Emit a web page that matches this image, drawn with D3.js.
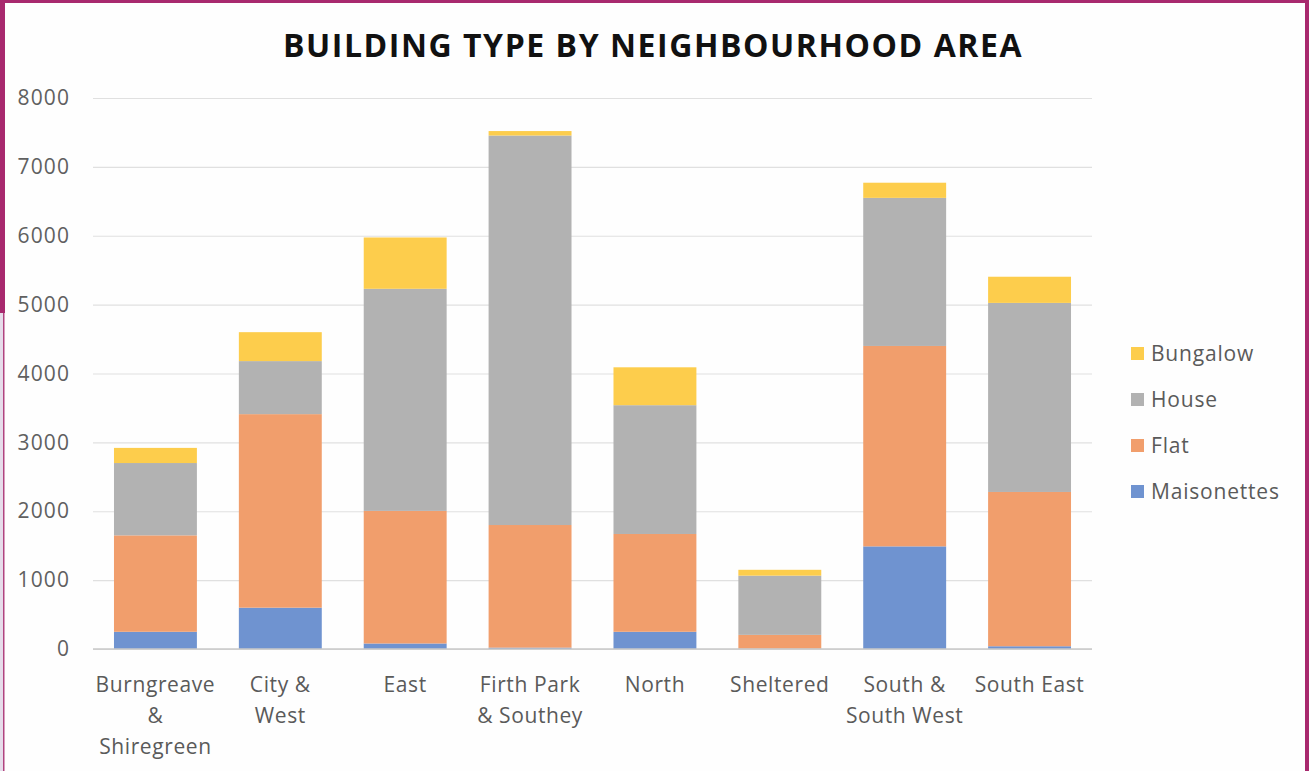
<!DOCTYPE html>
<html>
<head>
<meta charset="utf-8">
<script src="https://cdn.jsdelivr.net/npm/d3@7"></script>
<style>
  body { margin: 0; background: #fff; }
  svg { display: block; }
</style>
</head>
<body>
<svg id="chart" width="1309" height="771"></svg>
<script>
// data
const areas = [
  ["Burngreave", "&", "Shiregreen"],
  ["City &", "West"],
  ["East"],
  ["Firth Park", "& Southey"],
  ["North"],
  ["Sheltered"],
  ["South &", "South West"],
  ["South East"]
]
const maisonettes = [250, 600, 80, 20, 250, 5, 1490, 40]
const flat = [1400, 2810, 1925, 1780, 1420, 200, 2910, 2240]
const house = [1050, 770, 3225, 5655, 1870, 860, 2150, 2745]
const bungalow = [220, 420, 745, 65, 550, 85, 220, 380]
const seriesNames = ["Maisonettes", "Flat", "House", "Bungalow"]
const yTicks = [0, 1000, 2000, 3000, 4000, 5000, 6000, 7000, 8000]

const colors = {
  Maisonettes: "#6f93d0",
  Flat: "#f19e6c",
  House: "#b2b2b2",
  Bungalow: "#fdcd4c"
}

const svg = d3.select("#chart")
const font = "'Open Sans', 'Liberation Sans', sans-serif"

// frame
svg.append("rect").attr("x", 0).attr("y", 0).attr("width", 1309).attr("height", 771).attr("fill", "#fefefe")
svg.append("rect").attr("x", 0).attr("y", 0).attr("width", 1309).attr("height", 3).attr("fill", "#a8296e")
svg.append("rect").attr("x", 0).attr("y", 0).attr("width", 5).attr("height", 313).attr("fill", "#a8296e")
svg.append("rect").attr("x", 0).attr("y", 313).attr("width", 3).attr("height", 458).attr("fill", "#e6dcea")
svg.append("rect").attr("x", 3).attr("y", 313).attr("width", 1.5).attr("height", 458).attr("fill", "#b0437f")
svg.append("rect").attr("x", 1305).attr("y", 0).attr("width", 4).attr("height", 771).attr("fill", "#a8296e")

const margin = {left: 93, right: 1092, top: 98, bottom: 649}

const x = d3.scaleBand()
  .domain(d3.range(areas.length))
  .range([margin.left, margin.right])
  .paddingInner(0.336)
  .paddingOuter(0.168)

const y = d3.scaleLinear()
  .domain([0, 8000])
  .range([margin.bottom, margin.top])

// grid
const yAxis = d3.axisLeft(y).tickValues(yTicks).tickSize(-(margin.right - margin.left)).tickFormat(d3.format("d"))
const gy = svg.append("g").attr("transform", `translate(${margin.left},0)`).call(yAxis)
gy.select(".domain").remove()
gy.selectAll(".tick line").attr("stroke", "#e0e0e0").attr("stroke-width", 1.2)
gy.selectAll(".tick text")
  .attr("x", -23)
  .attr("font-family", font)
  .attr("font-size", 21)
  .attr("letter-spacing", 1.1)
  .attr("fill", "#606060")

// stacked bars
const rows = areas.map((a, i) => ({
  idx: i,
  Maisonettes: maisonettes[i],
  Flat: flat[i],
  House: house[i],
  Bungalow: bungalow[i]
}))
const stacked = d3.stack().keys(seriesNames)(rows)

svg.append("g").selectAll("g")
  .data(stacked)
  .join("g")
  .attr("fill", d => colors[d.key])
  .selectAll("rect")
  .data(d => d)
  .join("rect")
  .attr("x", d => x(d.data.idx))
  .attr("width", x.bandwidth())
  .attr("y", d => y(d[1]))
  .attr("height", d => y(d[0]) - y(d[1]))

// x axis
svg.append("line")
  .attr("x1", margin.left).attr("x2", margin.right)
  .attr("y1", y(0)).attr("y2", y(0))
  .attr("stroke", "#c8c8c8").attr("stroke-width", 1.5)

const xl = svg.append("g")
areas.forEach((lines, i) => {
  const t = xl.append("text")
    .attr("x", x(i) + x.bandwidth() / 2)
    .attr("y", 692)
    .attr("text-anchor", "middle")
    .attr("font-family", font)
    .attr("font-size", 21)
    .attr("letter-spacing", 0.6)
    .attr("fill", "#5a5a5a")
  lines.forEach((ln, j) => {
    t.append("tspan")
      .attr("x", x(i) + x.bandwidth() / 2)
      .attr("dy", j === 0 ? 0 : 31)
      .text(ln)
  })
})

// title
svg.append("text")
  .attr("x", 653)
  .attr("y", 57)
  .attr("text-anchor", "middle")
  .attr("font-family", font)
  .attr("font-weight", "bold")
  .attr("font-size", 32)
  .attr("letter-spacing", 1.55)
  .attr("fill", "#111")
  .text("BUILDING TYPE BY NEIGHBOURHOOD AREA")

// legend
const legendItems = seriesNames.slice().reverse()
const lg = svg.append("g").selectAll("g")
  .data(legendItems)
  .join("g")
  .attr("transform", (d, i) => `translate(1131,${353 + i * 46})`)
lg.append("rect")
  .attr("x", 0).attr("y", -6)
  .attr("width", 13).attr("height", 13)
  .attr("fill", d => colors[d])
lg.append("text")
  .attr("x", 20).attr("y", 8)
  .attr("font-family", font)
  .attr("font-size", 21)
  .attr("letter-spacing", 0.8)
  .attr("fill", "#5a5a5a")
  .text(d => d)
</script>
</body>
</html>
